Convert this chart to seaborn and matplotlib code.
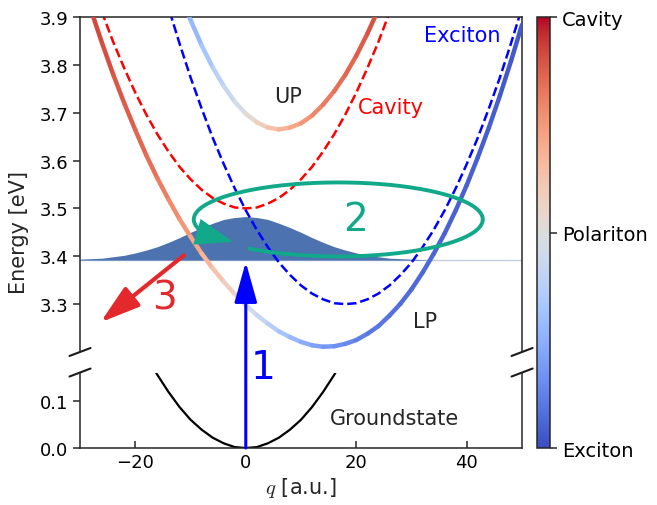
import numpy as np
import matplotlib
matplotlib.use("Agg")
import matplotlib.pyplot as plt
import seaborn as sns
from matplotlib.collections import LineCollection
from matplotlib.patches import ConnectionPatch

# wavevector grid (a.u.)
q = np.arange(-30, 51, 2)
# bare cavity and exciton dispersions (eV)
cavity = [4.045, 3.974, 3.909, 3.848, 3.793, 3.742, 3.696, 3.655, 3.619, 3.587, 3.561,
          3.539, 3.522, 3.510, 3.502, 3.500, 3.502, 3.510, 3.522, 3.539, 3.561, 3.587,
          3.619, 3.655, 3.696, 3.742, 3.793, 3.848, 3.909, 3.974, 4.045, 4.120, 4.199,
          4.284, 4.374, 4.468, 4.567, 4.671, 4.780, 4.894, 5.013]
exciton = [4.694, 4.580, 4.471, 4.367, 4.268, 4.174, 4.084, 3.999, 3.920, 3.845, 3.774,
           3.709, 3.648, 3.593, 3.542, 3.496, 3.455, 3.419, 3.387, 3.361, 3.339, 3.322,
           3.310, 3.302, 3.300, 3.302, 3.310, 3.322, 3.339, 3.361, 3.387, 3.419, 3.455,
           3.496, 3.542, 3.593, 3.648, 3.709, 3.774, 3.845, 3.920]
# lower / upper polariton (eV)
lp = [3.988, 3.914, 3.845, 3.780, 3.720, 3.664, 3.611, 3.563, 3.519, 3.478, 3.441,
      3.406, 3.375, 3.347, 3.321, 3.298, 3.277, 3.259, 3.243, 3.231, 3.221, 3.214,
      3.211, 3.212, 3.217, 3.225, 3.238, 3.254, 3.276, 3.301, 3.331, 3.366, 3.405,
      3.448, 3.496, 3.549, 3.607, 3.669, 3.736, 3.808, 3.884]
up = [4.751, 4.640, 4.535, 4.435, 4.341, 4.252, 4.169, 4.091, 4.019, 3.954, 3.894,
      3.841, 3.795, 3.756, 3.723, 3.698, 3.680, 3.669, 3.665, 3.669, 3.678, 3.694,
      3.717, 3.745, 3.779, 3.819, 3.865, 3.916, 3.972, 4.034, 4.101, 4.173, 4.250,
      4.332, 4.419, 4.512, 4.609, 4.711, 4.818, 4.931, 5.048]
# cavity fraction of each polariton branch (0 = exciton, 1 = cavity)
lp_cav = [0.93, 0.92, 0.91, 0.90, 0.88, 0.87, 0.85, 0.83, 0.80, 0.77, 0.74, 0.70, 0.65,
          0.60, 0.55, 0.50, 0.44, 0.39, 0.34, 0.30, 0.26, 0.22, 0.19, 0.17, 0.15, 0.13,
          0.11, 0.10, 0.09, 0.08, 0.07, 0.07, 0.06, 0.05, 0.05, 0.05, 0.04, 0.04, 0.04,
          0.03, 0.03]
up_cav = [0.07, 0.08, 0.09, 0.10, 0.12, 0.13, 0.15, 0.17, 0.20, 0.23, 0.26, 0.30, 0.35,
          0.40, 0.45, 0.50, 0.56, 0.61, 0.66, 0.70, 0.74, 0.78, 0.81, 0.83, 0.85, 0.87,
          0.89, 0.90, 0.91, 0.92, 0.93, 0.93, 0.94, 0.95, 0.95, 0.95, 0.96, 0.96, 0.96,
          0.97, 0.97]
# excited wave packet on top of 3.392 eV
packet = [0.002, 0.003, 0.004, 0.007, 0.010, 0.015, 0.021, 0.028, 0.037, 0.047, 0.058,
          0.068, 0.077, 0.085, 0.089, 0.091, 0.089, 0.085, 0.077, 0.068, 0.058, 0.047,
          0.037, 0.028, 0.021, 0.015, 0.010, 0.007, 0.004, 0.003, 0.002, 0.001, 0.000,
          0.000, 0.000, 0.000, 0.000, 0.000, 0.000, 0.000, 0.000]
base = 3.392
# ground state
q_ground = np.arange(-18, 19, 2)
ground = [0.196, 0.155, 0.119, 0.087, 0.060, 0.039, 0.022, 0.010, 0.002, 0.000, 0.002,
          0.010, 0.022, 0.039, 0.060, 0.087, 0.119, 0.155, 0.196]

sns.set_theme(style="ticks")
plt.rcParams['font.family'] = ['DejaVu Sans']
plt.rcParams['mathtext.fontset'] = 'cm'

fig = plt.figure(figsize=(6.57, 5.06), dpi=100)
ax_top = fig.add_axes([0.1218, 0.3024, 0.6728, 0.662])
ax_bot = fig.add_axes([0.1218, 0.1126, 0.6728, 0.1492])
cax = fig.add_axes([0.8174, 0.1126, 0.0198, 0.8518])

ax_top.fill_between(q, base, base + np.array(packet), color='#4C72B0', lw=0, zorder=1)
ax_top.axhline(base, color='#4C72B0', lw=1, alpha=0.35, zorder=1)

sns.lineplot(x=q, y=cavity, ax=ax_top, color='red', linestyle='--', lw=1.8, zorder=2)
sns.lineplot(x=q, y=exciton, ax=ax_top, color='blue', linestyle='--', lw=1.8, zorder=2)

cmap = plt.get_cmap('coolwarm')
for E, f in [(lp, lp_cav), (up, up_cav)]:
    pts = np.column_stack([q, E]).reshape(-1, 1, 2)
    segs = np.concatenate([pts[:-1], pts[1:]], axis=1)
    f = np.array(f)
    lc = LineCollection(segs, cmap=cmap, norm=plt.Normalize(0, 1), lw=3.2,
                        capstyle='round', zorder=3)
    lc.set_array((f[:-1] + f[1:]) / 2)
    ax_top.add_collection(lc)

sns.lineplot(x=q_ground, y=ground, ax=ax_bot, color='black', lw=1.6)

# process 2: relaxation loop
green = '#12A88A'
cq, cE, A, B = 16.74, 3.477, 26.15, 0.0773
t = np.deg2rad(np.linspace(232, 562, 300))
ax_top.plot(cq + A * np.cos(t), cE + B * np.sin(t), color=green, lw=2.8, zorder=4)
ax_top.annotate('', xy=(-2.3, 3.430), xytext=(-10.3, 3.456),
                arrowprops=dict(arrowstyle='-|>,head_length=1.35,head_width=0.48',
                                mutation_scale=20, color=green, lw=0,
                                shrinkA=0, shrinkB=0), zorder=4)

# process 3: emission
red = '#E3292B'
ax_top.annotate('', xy=(-26.3, 3.262), xytext=(-11.2, 3.402),
                arrowprops=dict(arrowstyle='-|>,head_length=1.2,head_width=0.37',
                                mutation_scale=20, color=red, lw=3,
                                shrinkA=0, shrinkB=0), zorder=5)
# process 1: excitation
con = ConnectionPatch(xyA=(0, 0), coordsA='data', axesA=ax_bot,
                      xyB=(0, 3.388), coordsB='data', axesB=ax_top,
                      arrowstyle='-|>,head_length=1.25,head_width=0.35',
                      mutation_scale=20, color='blue', lw=2.2,
                      shrinkA=0, shrinkB=0)
fig.add_artist(con)

ax_top.text(7.7, 3.735, 'UP', fontsize=15, ha='center', va='center')
ax_top.text(26.2, 3.712, 'Cavity', fontsize=15, color='red', ha='center', va='center')
ax_top.text(39.1, 3.862, 'Exciton', fontsize=15, color='blue', ha='center', va='center')
ax_top.text(32.4, 3.264, 'LP', fontsize=15, ha='center', va='center')
ax_top.text(19.9, 3.478, '2', fontsize=28, color=green, ha='center', va='center')
ax_top.text(-14.7, 3.313, '3', fontsize=28, color=red, ha='center', va='center')
ax_bot.text(27.0, 0.063, 'Groundstate', fontsize=15, ha='center', va='center')
ax_bot.text(3.1, 0.172, '1', fontsize=28, color='blue', ha='center', va='center')

for ax in (ax_top, ax_bot):
    ax.set_xlim(-30, 50)
    ax.tick_params(axis='y', direction='out', length=5, width=1.1, labelsize=13,
                   labelcolor='black')
    ax.tick_params(axis='x', direction='in', length=5, width=1.1, labelsize=13,
                   labelcolor='black')
    for s in ax.spines.values():
        s.set_linewidth(1.1)
ax_top.set_ylim(3.2, 3.9)
ax_top.set_yticks([3.3, 3.4, 3.5, 3.6, 3.7, 3.8, 3.9])
ax_top.tick_params(bottom=False, labelbottom=False)
ax_top.spines['bottom'].set_visible(False)
ax_bot.set_ylim(0, 0.16)
ax_bot.set_yticks([0.0, 0.1])
ax_bot.set_xticks([-20, 0, 20, 40])
ax_bot.spines['top'].set_visible(False)
ax_bot.set_xlabel('$q$ [a.u.]', fontsize=15, labelpad=3)
ax_bot.set_ylabel('')
ax_top.set_ylabel('Energy [eV]', fontsize=15)
ax_top.yaxis.set_label_coords(-0.115, 0.361)

# axis break marks
dx, dy = 0.0238, 0.0119
kw = dict(transform=ax_top.transAxes, color='k', clip_on=False, lw=1.5)
ax_top.plot((-dx, dx), (-dy, dy), **kw)
ax_top.plot((1 - dx, 1 + dx), (-dy, dy), **kw)
dy2 = 4 / 75.5
kw = dict(transform=ax_bot.transAxes, color='k', clip_on=False, lw=1.5)
ax_bot.plot((-dx, dx), (1 - dy2, 1 + dy2), **kw)
ax_bot.plot((1 - dx, 1 + dx), (1 - dy2, 1 + dy2), **kw)

sm = plt.cm.ScalarMappable(cmap=cmap, norm=plt.Normalize(0, 1))
cb = fig.colorbar(sm, cax=cax, ticks=[0, 0.5, 1])
cb.ax.set_yticklabels(['Exciton', 'Polariton', 'Cavity'])
cb.ax.tick_params(labelsize=14, length=5, width=1.1, labelcolor='black')
cb.outline.set_linewidth(1.1)

fig.savefig('out.png', dpi=100)
